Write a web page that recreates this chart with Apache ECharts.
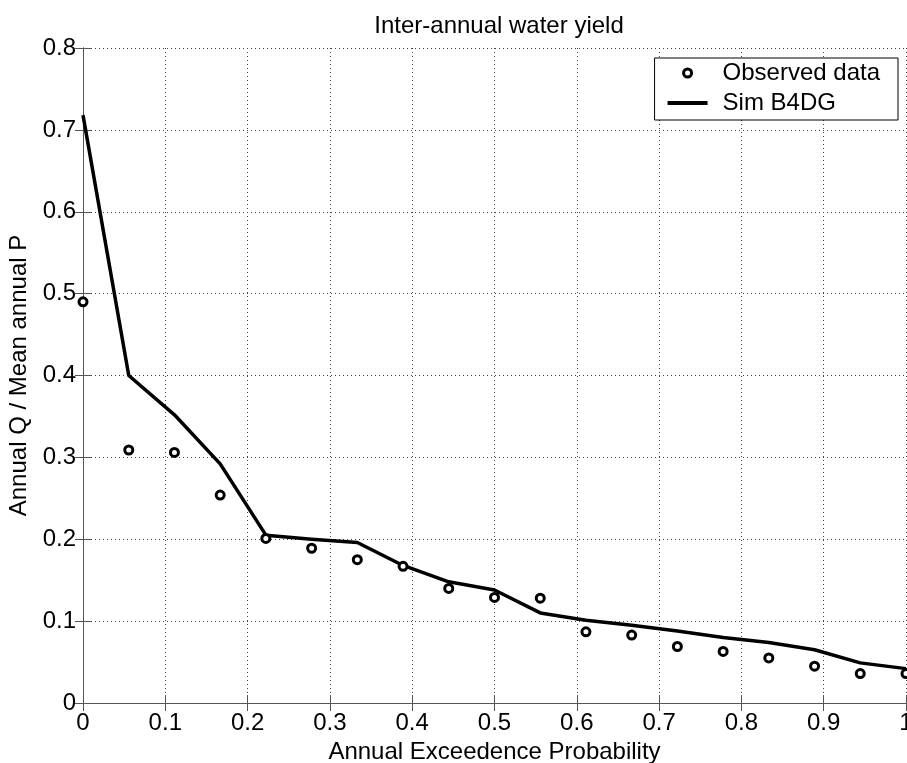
<!DOCTYPE html>
<html>
<head>
<meta charset="utf-8">
<script src="https://cdn.jsdelivr.net/npm/echarts@6/dist/echarts.min.js"></script>
<style>
html,body{margin:0;padding:0;background:#fff;}
#chart{width:907px;height:763px;}
</style>
</head>
<body>
<div id="chart"></div>
<script>
var probability = [0, 0.0556, 0.1111, 0.1667, 0.2222, 0.2778, 0.3333, 0.3889, 0.4444, 0.5, 0.5556, 0.6111, 0.6667, 0.7222, 0.7778, 0.8333, 0.8889, 0.9444, 1];
var observed = [0.490, 0.309, 0.306, 0.254, 0.201, 0.189, 0.175, 0.167, 0.140, 0.129, 0.128, 0.087, 0.083, 0.069, 0.063, 0.055, 0.045, 0.036, 0.036];
var simB4DG = [0.718, 0.400, 0.352, 0.292, 0.205, 0.200, 0.196, 0.168, 0.148, 0.138, 0.110, 0.101, 0.095, 0.088, 0.080, 0.074, 0.065, 0.049, 0.042];
var seriesNames = ['Observed data', 'Sim B4DG'];
var titleText = 'Inter-annual water yield';
var xName = 'Annual Exceedence Probability';
var yName = 'Annual Q / Mean annual P';

var FONT = '"Liberation Sans", Arial, Helvetica, sans-serif';
function pairs(xs, ys){ return xs.map(function(x,i){ return [x, ys[i]]; }); }
function fmt(v){ return String(Math.round(v*10)/10); }

var axisLineStyle = {color:'#555', width:1};
var tickStyle = {color:'#555', width:1};
var gridStyle = {color:'#444', width:1, type:[1,3]};

var chart = echarts.init(document.getElementById('chart'), null, {renderer:'canvas'});
chart.setOption({
  animation:false,
  backgroundColor:'#fff',
  title:{text:titleText, left:494, textAlign:'center', top:9,
    textStyle:{fontFamily:FONT, fontSize:24, fontWeight:'normal', color:'#000'}},
  grid:{left:83, right:1, top:48, bottom:60, containLabel:false, outerBoundsMode:'none'},
  legend:{
    orient:'vertical', right:9, top:58,
    backgroundColor:'#fff', borderColor:'#000', borderWidth:1,
    padding:[3, 18, 5, 13], itemGap:6, itemWidth:40, itemHeight:8,
    symbolKeepAspect:true,
    textStyle:{fontFamily:FONT, fontSize:24, color:'#000', padding:[0,0,0,10]},
    data:[
      {name:seriesNames[0], icon:'circle', itemStyle:{color:'#fff', borderColor:'#000', borderWidth:3}},
      {name:seriesNames[1], icon:'path://M0,0L40,0L40,4L0,4Z', itemStyle:{color:'#000', borderWidth:0}}
    ]
  },
  xAxis:[{
    type:'value', min:0, max:1, interval:0.1, position:'bottom',
    name:xName, nameLocation:'middle', nameGap:36,
    nameTextStyle:{fontFamily:FONT, fontSize:24, color:'#000'},
    axisLine:{show:true, lineStyle:axisLineStyle},
    axisTick:{show:true, inside:true, length:8, lineStyle:tickStyle},
    axisLabel:{fontFamily:FONT, fontSize:24, color:'#000', margin:8, formatter:fmt, showMaxLabel:true, showMinLabel:true, hideOverlap:false},
    splitLine:{show:true, lineStyle:gridStyle}
  },{
    type:'value', min:0, max:1, interval:0.1, position:'top',
    axisLine:{show:true, lineStyle:axisLineStyle},
    axisTick:{show:true, inside:true, length:8, lineStyle:tickStyle},
    axisLabel:{show:false}, splitLine:{show:false}
  }],
  yAxis:[{
    type:'value', min:0, max:0.8, interval:0.1, position:'left',
    name:yName, nameLocation:'middle', nameGap:48, nameRotate:90,
    nameTextStyle:{fontFamily:FONT, fontSize:24, color:'#000'},
    axisLine:{show:true, lineStyle:axisLineStyle},
    axisTick:{show:true, inside:true, length:8, lineStyle:tickStyle},
    axisLabel:{fontFamily:FONT, fontSize:24, color:'#000', margin:7, formatter:fmt},
    splitLine:{show:true, lineStyle:gridStyle}
  },{
    type:'value', min:0, max:0.8, interval:0.1, position:'right',
    axisLine:{show:true, lineStyle:axisLineStyle},
    axisTick:{show:true, inside:true, length:8, lineStyle:tickStyle},
    axisLabel:{show:false}, splitLine:{show:false}
  }],
  series:[{
    name:seriesNames[0], type:'scatter', xAxisIndex:0, yAxisIndex:0,
    data:pairs(probability, observed), symbol:'circle', symbolSize:8,
    itemStyle:{color:'#fff', borderColor:'#000', borderWidth:3, opacity:1}, z:3
  },{
    name:seriesNames[1], type:'line', xAxisIndex:0, yAxisIndex:0,
    data:pairs(probability, simB4DG), symbol:'none', showSymbol:false,
    lineStyle:{color:'#000', width:3.5, join:'round'}, itemStyle:{color:'#000'}, z:2
  }]
});
</script>
</body>
</html>
